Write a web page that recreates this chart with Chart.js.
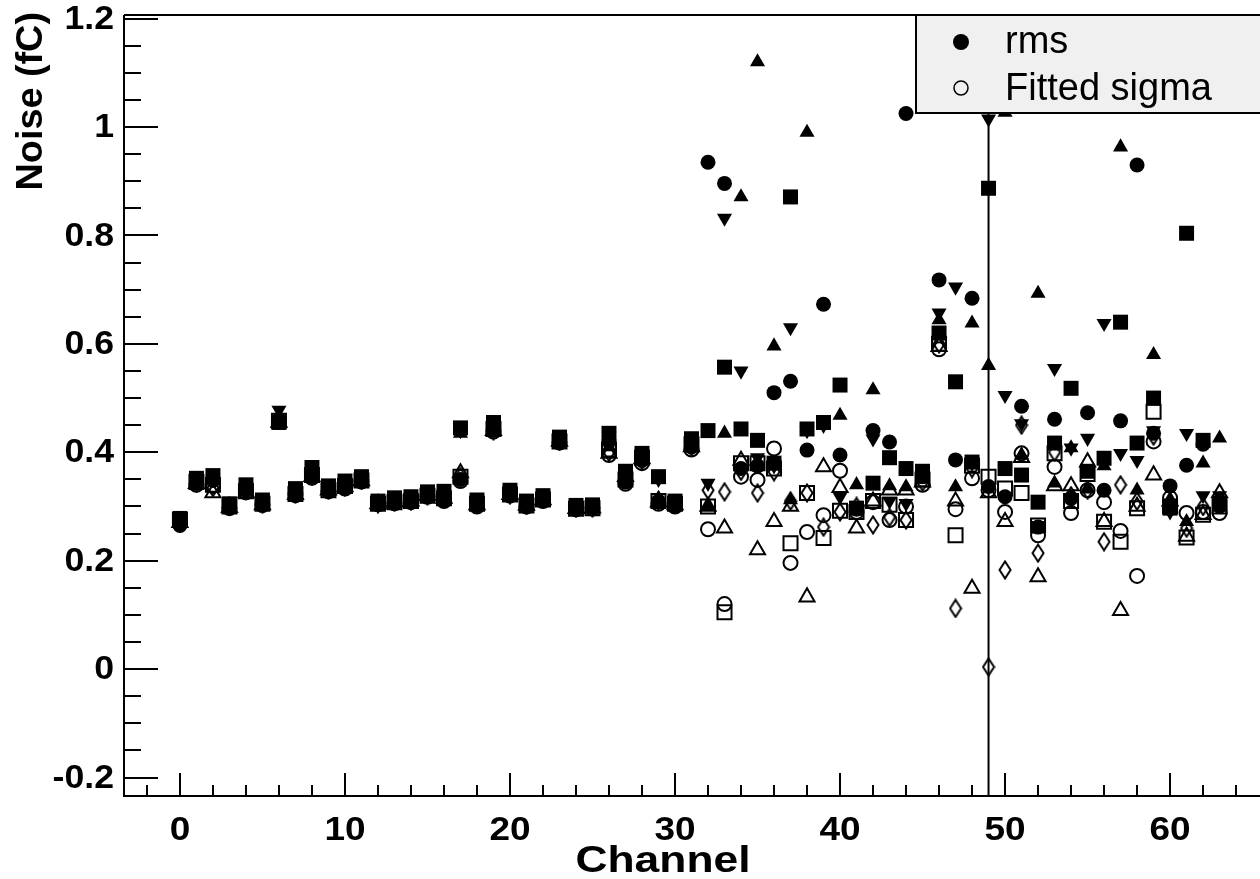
<!DOCTYPE html>
<html>
<head>
<meta charset="utf-8">
<script src="https://cdn.jsdelivr.net/npm/chart.js@4/dist/chart.umd.min.js"></script>
<style>
  html, body { margin: 0; padding: 0; background: #fff; }
  #wrap { width: 1260px; height: 879px; }
</style>
</head>
<body>
<div id="wrap"><canvas id="canvasNoise" width="1260" height="879"></canvas></div>
<script>
// channel numbers
var channels = [0, 1, 2, 3, 4, 5, 6, 7, 8, 9, 10, 11, 12, 13, 14, 15,
  16, 17, 18, 19, 20, 21, 22, 23, 24, 25, 26, 27, 28, 29, 30, 31,
  32, 33, 34, 35, 36, 37, 38, 39, 40, 41, 42, 43, 44, 45, 46, 47,
  48, 49, 50, 51, 52, 53, 54, 55, 56, 57, 58, 59, 60, 61, 62, 63];

// noise in fC, filled markers = rms, open markers = fitted sigma
var rmsCircle = [0.265, 0.345, 0.348, 0.298, 0.33, 0.302, 0.46, 0.32, 0.355, 0.33, 0.337, 0.348, 0.305, 0.306, 0.31, 0.32,
  0.312, 0.35, 0.302, 0.445, 0.322, 0.30, 0.312, 0.42, 0.295, 0.296, 0.42, 0.345, 0.385, 0.31, 0.30, 0.41,
  0.935, 0.896, 0.37, 0.375, 0.51, 0.531, 0.404, 0.673, 0.395, 0.295, 0.44, 0.419, 1.025, 0.355, 0.718, 0.386,
  0.684, 0.337, 0.318, 0.485, 0.262, 0.461, 0.315, 0.473, 0.33, 0.458, 0.93, 0.435, 0.338, 0.376, 0.415, 0.30];
var rmsSquare = [0.278, 0.352, 0.357, 0.305, 0.34, 0.312, 0.455, 0.333, 0.372, 0.338, 0.347, 0.355, 0.31, 0.316, 0.318, 0.327,
  0.328, 0.445, 0.312, 0.455, 0.33, 0.31, 0.32, 0.428, 0.302, 0.303, 0.435, 0.365, 0.398, 0.355, 0.31, 0.425,
  0.44, 0.557, 0.443, 0.422, 0.38, 0.871, 0.443, 0.455, 0.524, 0.297, 0.343, 0.39, 0.37, 0.365, 0.62, 0.53,
  0.382, 0.887, 0.37, 0.358, 0.308, 0.417, 0.518, 0.365, 0.389, 0.64, 0.417, 0.5, 0.297, 0.804, 0.422, 0.306];
var rmsTriUp = [0.27, 0.345, 0.35, 0.30, 0.33, 0.305, 0.465, 0.325, 0.36, 0.332, 0.34, 0.35, 0.306, 0.31, 0.312, 0.322,
  0.318, 0.435, 0.305, 0.44, 0.324, 0.303, 0.314, 0.422, 0.297, 0.298, 0.41, 0.35, 0.39, 0.315, 0.304, 0.415,
  0.30, 0.435, 0.871, 1.12, 0.596, 0.312, 0.99, 0.45, 0.468, 0.34, 0.515, 0.338, 0.336, 0.35, 0.644, 0.336,
  0.638, 0.56, 1.027, 0.395, 0.693, 0.343, 0.408, 0.332, 0.375, 0.963, 0.33, 0.58, 0.31, 0.272, 0.38, 0.426];
var rmsTriDown = [0.272, 0.348, 0.352, 0.302, 0.335, 0.308, 0.478, 0.328, 0.365, 0.335, 0.342, 0.352, 0.308, 0.312, 0.315, 0.325,
  0.32, 0.44, 0.308, 0.45, 0.326, 0.305, 0.316, 0.425, 0.299, 0.30, 0.43, 0.36, 0.395, 0.35, 0.306, 0.42,
  0.343, 0.832, 0.55, 0.39, 0.375, 0.63, 0.44, 0.45, 0.318, 0.30, 0.425, 0.31, 0.306, 0.36, 0.657, 0.705,
  0.38, 1.015, 0.505, 0.453, 0.265, 0.555, 0.408, 0.426, 0.638, 0.398, 0.385, 0.44, 0.29, 0.435, 0.32, 0.32];
var sigmaCircle = [0.268, 0.34, 0.338, 0.297, 0.326, 0.303, 0.456, 0.322, 0.353, 0.328, 0.333, 0.346, 0.304, 0.306, 0.308, 0.318,
  0.31, 0.347, 0.30, 0.438, 0.32, 0.30, 0.31, 0.418, 0.295, 0.296, 0.395, 0.342, 0.38, 0.305, 0.30, 0.405,
  0.258, 0.12, 0.355, 0.349, 0.407, 0.196, 0.253, 0.284, 0.366, 0.29, 0.308, 0.275, 0.30, 0.34, 0.59, 0.295,
  0.352, 0.33, 0.29, 0.398, 0.247, 0.373, 0.288, 0.33, 0.308, 0.255, 0.172, 0.42, 0.316, 0.288, 0.29, 0.288];
var sigmaSquare = [0.275, 0.345, 0.34, 0.30, 0.328, 0.305, 0.458, 0.323, 0.358, 0.33, 0.338, 0.348, 0.305, 0.308, 0.31, 0.32,
  0.315, 0.355, 0.305, 0.443, 0.322, 0.302, 0.313, 0.42, 0.296, 0.297, 0.405, 0.35, 0.39, 0.31, 0.305, 0.415,
  0.30, 0.105, 0.38, 0.38, 0.37, 0.232, 0.325, 0.242, 0.292, 0.29, 0.31, 0.303, 0.275, 0.35, 0.60, 0.247,
  0.375, 0.355, 0.333, 0.325, 0.265, 0.398, 0.31, 0.36, 0.272, 0.235, 0.297, 0.475, 0.30, 0.243, 0.285, 0.30];
var sigmaTriUp = [0.27, 0.342, 0.325, 0.298, 0.325, 0.303, 0.455, 0.322, 0.355, 0.33, 0.336, 0.347, 0.305, 0.308, 0.31, 0.32,
  0.315, 0.362, 0.303, 0.44, 0.322, 0.302, 0.312, 0.42, 0.296, 0.297, 0.398, 0.355, 0.388, 0.308, 0.303, 0.41,
  0.30, 0.26, 0.385, 0.22, 0.272, 0.30, 0.133, 0.373, 0.335, 0.26, 0.31, 0.33, 0.33, 0.345, 0.595, 0.31,
  0.149, 0.325, 0.272, 0.39, 0.17, 0.338, 0.338, 0.382, 0.272, 0.108, 0.30, 0.358, 0.31, 0.245, 0.285, 0.325];
var sigmaDiamond = [0.27, 0.343, 0.335, 0.30, 0.33, 0.305, 0.46, 0.323, 0.356, 0.33, 0.336, 0.348, 0.305, 0.308, 0.31, 0.32,
  0.315, 0.355, 0.305, 0.44, 0.322, 0.302, 0.313, 0.42, 0.297, 0.298, 0.40, 0.35, 0.385, 0.31, 0.304, 0.41,
  0.33, 0.327, 0.365, 0.325, 0.364, 0.31, 0.325, 0.262, 0.29, 0.30, 0.266, 0.28, 0.275, 0.345, 0.60, 0.112,
  0.37, 0.004, 0.183, 0.45, 0.214, 0.40, 0.32, 0.33, 0.235, 0.34, 0.31, 0.43, 0.30, 0.26, 0.30, 0.31];

// the failed fit on channel 49 has a huge error
var errChannel = 49;
var errSize = 1.5;

// axis ticks
var xMajorTicks = [0, 10, 20, 30, 40, 50, 60];
var xMinorStep = 2;
var yMajorTicks = [-0.2, 0, 0.2, 0.4, 0.6, 0.8, 1, 1.2];
var yTickLabels = ["-0.2", "0", "0.2", "0.4", "0.6", "0.8", "1", "1.2"];
var yMinorStep = 0.05;

var legendLabels = ["rms", "Fitted sigma"];

function points(values) {
  var pts = [];
  for (var i = 0; i < channels.length; i++) {
    pts.push({ x: channels[i], y: values[i] });
  }
  return pts;
}

// narrow open diamond like root marker 27
function diamondMarker() {
  var c = document.createElement("canvas");
  c.width = 14;
  c.height = 20;
  var ctx = c.getContext("2d");
  ctx.strokeStyle = "#000";
  ctx.lineWidth = 2;
  ctx.beginPath();
  ctx.moveTo(7, 1.5);
  ctx.lineTo(12.5, 10);
  ctx.lineTo(7, 18.5);
  ctx.lineTo(1.5, 10);
  ctx.closePath();
  ctx.stroke();
  return c;
}

function markerSet(label, values, style, filled, radius, rotation) {
  return {
    type: "scatter",
    label: label,
    data: points(values),
    pointStyle: style,
    pointRadius: radius,
    pointRotation: rotation || 0,
    backgroundColor: filled ? "#000" : "rgba(0,0,0,0)",
    borderColor: "#000",
    borderWidth: filled ? 0 : 2,
    showLine: false
  };
}

var errLine = {
  type: "line",
  label: "err",
  data: [
    { x: errChannel, y: sigmaDiamond[errChannel] - errSize },
    { x: errChannel, y: sigmaDiamond[errChannel] + errSize }
  ],
  borderColor: "#000",
  borderWidth: 2,
  pointRadius: 0,
  fill: false
};

// draw text a bit wider, like the original root fonts
function wideText(ctx, txt, x, y, stretch) {
  ctx.save();
  ctx.translate(x, y);
  ctx.scale(stretch, 1);
  ctx.fillText(txt, 0, 0);
  ctx.restore();
}

// root style frame, ticks and labels
var rootAxes = {
  id: "rootAxes",
  beforeDatasetsDraw: function(chart) {
    var ctx = chart.ctx;
    var a = chart.chartArea;
    var xs = chart.scales.x;
    var ys = chart.scales.y;
    ctx.save();
    ctx.strokeStyle = "#000";
    ctx.lineWidth = 2;
    ctx.beginPath();
    ctx.moveTo(a.left, a.top);
    ctx.lineTo(chart.width, a.top);
    ctx.moveTo(a.left, a.top);
    ctx.lineTo(a.left, a.bottom);
    ctx.lineTo(chart.width, a.bottom);
    ctx.stroke();

    // x ticks
    ctx.beginPath();
    for (var v = -2; v <= 64; v += xMinorStep) {
      var px = Math.round(xs.getPixelForValue(v));
      var len = (v % 10 == 0) ? 23 : 11;
      ctx.moveTo(px, a.bottom);
      ctx.lineTo(px, a.bottom - len);
    }
    // y ticks
    for (var k = -4; k <= 24; k++) {
      var val = k * yMinorStep;
      var py = Math.round(ys.getPixelForValue(val));
      var l = (k % 4 == 0) ? 34 : 17;
      ctx.moveTo(a.left, py);
      ctx.lineTo(a.left + l, py);
    }
    ctx.stroke();

    ctx.fillStyle = "#000";
    ctx.font = "bold 33px 'Liberation Sans', Arial, sans-serif";
    ctx.textAlign = "center";
    ctx.textBaseline = "middle";
    for (var i = 0; i < xMajorTicks.length; i++) {
      wideText(ctx, String(xMajorTicks[i]), xs.getPixelForValue(xMajorTicks[i]), 831, 1.12);
    }
    ctx.textAlign = "right";
    for (var j = 0; j < yMajorTicks.length; j++) {
      wideText(ctx, yTickLabels[j], 114, ys.getPixelForValue(yMajorTicks[j]) + 1, 1.08);
    }

    // axis titles
    ctx.font = "bold 37px 'Liberation Sans', Arial, sans-serif";
    ctx.textAlign = "center";
    wideText(ctx, "Channel", 663, 862, 1.2);
    ctx.save();
    ctx.translate(32, 12);
    ctx.rotate(-Math.PI / 2);
    ctx.textAlign = "right";
    ctx.font = "bold 36px 'Liberation Sans', Arial, sans-serif";
    wideText(ctx, "Noise (fC)", 0, 0, 1.05);
    ctx.restore();
    ctx.restore();
  },
  afterDraw: function(chart) {
    var ctx = chart.ctx;
    ctx.save();
    ctx.fillStyle = "#f0f0f0";
    ctx.fillRect(916, 15, 360, 98);
    ctx.strokeStyle = "#000";
    ctx.lineWidth = 2;
    ctx.strokeRect(916, 15, 360, 98);

    ctx.fillStyle = "#000";
    ctx.beginPath();
    ctx.arc(961, 42, 8, 0, Math.PI * 2);
    ctx.fill();
    ctx.lineWidth = 1.5;
    ctx.beginPath();
    ctx.arc(961, 88, 7, 0, Math.PI * 2);
    ctx.stroke();

    ctx.font = "38px 'Liberation Sans', Arial, sans-serif";
    ctx.textAlign = "left";
    ctx.textBaseline = "alphabetic";
    ctx.fillText(legendLabels[0], 1005, 53);
    ctx.fillText(legendLabels[1], 1005, 100);
    ctx.restore();
  }
};

var noiseConfig = {
  type: "scatter",
  data: {
    datasets: [
      markerSet("Fitted sigma", sigmaCircle, "circle", false, 7),
      markerSet("sigma sq", sigmaSquare, "rect", false, 9.9),
      markerSet("sigma tri", sigmaTriUp, "triangle", false, 8.7),
      markerSet("sigma diamond", sigmaDiamond, diamondMarker(), false, 8),
      markerSet("rms", rmsCircle, "circle", true, 7.5),
      markerSet("rms sq", rmsSquare, "rect", true, 10.6),
      markerSet("rms tri", rmsTriUp, "triangle", true, 8.7),
      markerSet("rms tri down", rmsTriDown, "triangle", true, 8.7, 180),
      errLine
    ]
  },
  options: {
    responsive: false,
    animation: false,
    events: [],
    layout: { autoPadding: false, padding: { left: 124, top: 15, right: 0, bottom: 83 } },
    plugins: { legend: { display: false }, tooltip: { enabled: false } },
    scales: {
      x: { type: "linear", min: -3.39, max: 65.45, display: false },
      y: { type: "linear", min: -0.234, max: 1.2066, display: false }
    }
  },
  plugins: [rootAxes]
};

var noiseChart = new Chart(document.getElementById("canvasNoise"), noiseConfig);
</script>
</body>
</html>
